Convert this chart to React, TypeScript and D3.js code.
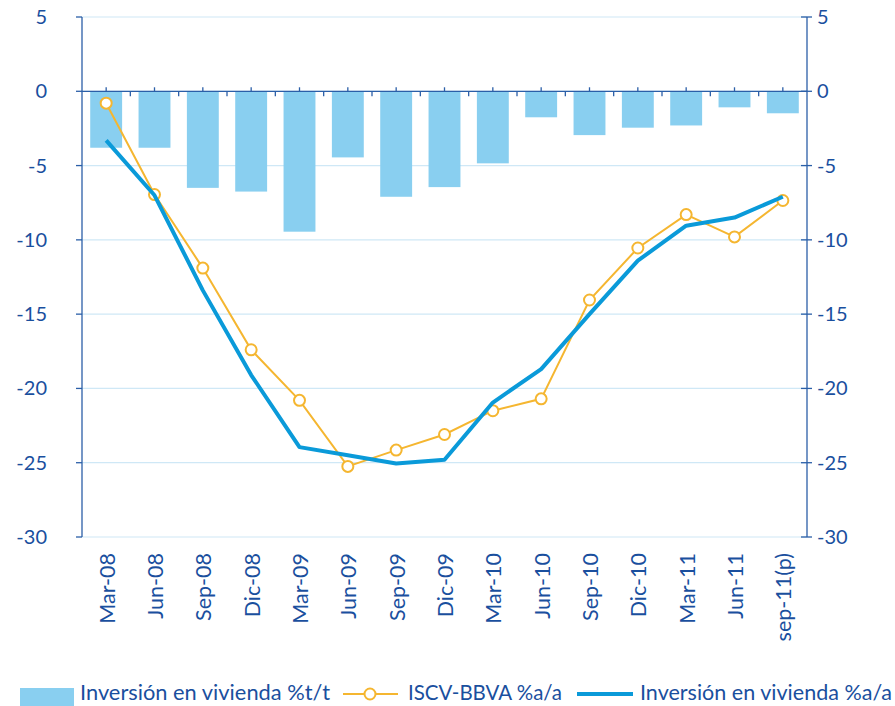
import React from "react";
import * as d3 from "d3";

const categories = ["Mar-08","Jun-08","Sep-08","Dic-08","Mar-09","Jun-09","Sep-09","Dic-09","Mar-10","Jun-10","Sep-10","Dic-10","Mar-11","Jun-11","sep-11(p)"];
const barValues = [-3.8,-3.8,-6.5,-6.75,-9.45,-4.45,-7.1,-6.45,-4.85,-1.75,-2.95,-2.45,-2.3,-1.08,-1.48];
const iscvValues = [-0.8,-6.95,-11.9,-17.4,-20.8,-25.25,-24.15,-23.1,-21.5,-20.7,-14.05,-10.55,-8.3,-9.8,-7.35];
const invValues = [-3.3,-7.0,-13.4,-19.1,-23.95,-24.5,-25.05,-24.8,-20.95,-18.7,-15.0,-11.4,-9.05,-8.5,-7.1];
const yTicks = [5,0,-5,-10,-15,-20,-25,-30];
const legendLabels = ["Inversión en vivienda %t/t","ISCV-BBVA %a/a","Inversión en vivienda %a/a"];

const W = 895, H = 706;
const L = 82, R = 807, T = 17, B = 537;
const textColor = "#1a4f9e";
const axisColor = "#2b5fa8";
const gridColor = "#cfe8f6";
const barColor = "#89cff0";
const blueLine = "#0a9ad9";
const yellow = "#f5b630";
const font = "Lato, 'Open Sans', sans-serif";

export default function App() {
  const x = d3.scaleBand<string>().domain(categories).range([L, R]).paddingInner(0.34).paddingOuter(0.17);
  const xc = (c: string) => (x(c) as number) + x.bandwidth() / 2;
  const y = d3.scaleLinear().domain([-30, 5]).range([B, T]);
  const bandStep = (R - L) / categories.length;
  const line = d3.line<number>().x((_, i) => xc(categories[i])).y((d) => y(d));
  const ly = 693;

  return (
    <svg width={W} height={H} style={{ position: "absolute", left: 0, top: 0, fontFamily: font }}>
      <rect width={W} height={H} fill="#fff" />
      {yTicks.map((t) => (
        <line key={"g" + t} x1={L} x2={R} y1={y(t)} y2={y(t)} stroke={gridColor} strokeWidth={1.2} />
      ))}
      {categories.map((c, i) => (
        <rect key={"b" + c} x={x(c)} y={y(0)} width={x.bandwidth()} height={y(barValues[i]) - y(0)} fill={barColor} />
      ))}
      <line x1={L} x2={L} y1={T} y2={B} stroke={axisColor} strokeWidth={1.3} />
      <line x1={R} x2={R} y1={T} y2={B} stroke={axisColor} strokeWidth={1.3} />
      <line x1={L} x2={R} y1={y(0)} y2={y(0)} stroke={axisColor} strokeWidth={1.3} />
      {yTicks.map((t) => (
        <g key={"t" + t}>
          <line x1={L - 6} x2={L} y1={y(t)} y2={y(t)} stroke={axisColor} strokeWidth={1.3} />
          <line x1={R - 6} x2={R + 5} y1={y(t)} y2={y(t)} stroke={axisColor} strokeWidth={1.3} />
          <text x={47} y={y(t)} dy="0.35em" textAnchor="end" fontSize={20} fill={textColor}>{t}</text>
          <text x={817} y={y(t)} dy="0.35em" textAnchor="start" fontSize={20} fill={textColor}>{t}</text>
        </g>
      ))}
      {categories.map((c, i) => (
        <g key={"xt" + c}>
          <line x1={xc(c)} x2={xc(c)} y1={y(0) - 4} y2={y(0)} stroke={axisColor} strokeWidth={1.3} />
          {i > 0 && (
            <line x1={L + i * bandStep} x2={L + i * bandStep} y1={y(0)} y2={y(0) + 5} stroke={axisColor} strokeWidth={1.3} />
          )}
          <text transform={`translate(${xc(c) + 1},553) rotate(-90)`} dy="0.35em" textAnchor="end" fontSize={21.5} fill={textColor}>{c}</text>
        </g>
      ))}
      <path d={line(iscvValues) || ""} fill="none" stroke={yellow} strokeWidth={2} />
      {iscvValues.map((v, i) => (
        <circle key={"c" + i} cx={xc(categories[i])} cy={y(v)} r={5.5} fill="#fff" stroke={yellow} strokeWidth={2} />
      ))}
      <path d={line(invValues) || ""} fill="none" stroke={blueLine} strokeWidth={4} strokeLinejoin="round" />
      <rect x={20} y={688} width={54} height={18} fill={barColor} />
      <text x={80} y={ly} dy="0.35em" fontSize={21} textLength={250} lengthAdjust="spacingAndGlyphs" fill={textColor}>{legendLabels[0]}</text>
      <line x1={343} x2={398} y1={ly + 1} y2={ly + 1} stroke={yellow} strokeWidth={2} />
      <circle cx={370} cy={ly + 1} r={5.5} fill="#fff" stroke={yellow} strokeWidth={2} />
      <text x={408} y={ly} dy="0.35em" fontSize={21} textLength={154} lengthAdjust="spacingAndGlyphs" fill={textColor}>{legendLabels[1]}</text>
      <line x1={577} x2={633} y1={ly + 1} y2={ly + 1} stroke={blueLine} strokeWidth={4} />
      <text x={640} y={ly} dy="0.35em" fontSize={21} textLength={252} lengthAdjust="spacingAndGlyphs" fill={textColor}>{legendLabels[2]}</text>
    </svg>
  );
}
